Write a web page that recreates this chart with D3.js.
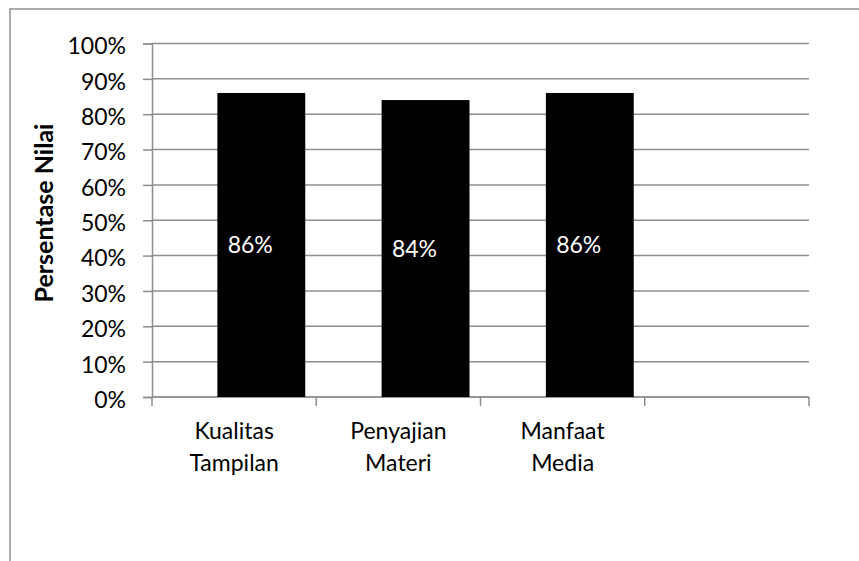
<!DOCTYPE html>
<html>
<head>
<meta charset="utf-8">
<script src="https://cdn.jsdelivr.net/npm/d3@7"></script>
<style>
  html, body { margin: 0; padding: 0; background: #ffffff; }
  svg { display: block; }
  text { font-family: Lato, "Open Sans", sans-serif; fill: #000; }
</style>
</head>
<body>
<svg id="chart" width="859" height="561"></svg>
<script>
// Category names (two-line labels) and their scores
const categories = ["Kualitas|Tampilan", "Penyajian|Materi", "Manfaat|Media", ""];
const values = [0.86, 0.84, 0.86, null];
const yTicks = [0, 0.1, 0.2, 0.3, 0.4, 0.5, 0.6, 0.7, 0.8, 0.9, 1.0];
const yTitle = "Persentase Nilai";

const svg = d3.select("#chart");
const gridColor = "#8e8e8e";

const plot = { left: 152, right: 809, top: 43.5, bottom: 397 };

const x = d3.scaleBand().domain(categories).range([plot.left, plot.right]).padding(0);
const y = d3.scaleLinear().domain([0, 1]).range([plot.bottom, plot.top]);
const fmt = d3.format(".0%");

// Outer chart border (left and top edges visible)
svg.append("path")
  .attr("d", `M10,561 L10,9 L859,9`)
  .attr("fill", "none")
  .attr("stroke", gridColor)
  .attr("stroke-width", 1.5);

// Horizontal gridlines
svg.append("g").selectAll("line")
  .data(yTicks)
  .join("line")
  .attr("x1", plot.left).attr("x2", plot.right)
  .attr("y1", d => y(d)).attr("y2", d => y(d))
  .attr("stroke", gridColor)
  .attr("stroke-width", 1.5);

// Y axis with tick marks and percent labels
const yAxis = svg.append("g")
  .attr("transform", `translate(${plot.left},0)`)
  .call(d3.axisLeft(y).tickValues(yTicks).tickFormat(fmt).tickSize(9).tickPadding(17));
yAxis.select(".domain").attr("stroke", gridColor).attr("stroke-width", 1.5);
yAxis.selectAll(".tick line").attr("stroke", gridColor).attr("stroke-width", 1.5);
yAxis.selectAll(".tick text")
  .attr("font-size", 23)
  .attr("font-family", "Lato, sans-serif")
  .attr("fill", "#000")
  .attr("dy", "0.45em");

// X axis baseline and category boundary ticks
const xAxis = svg.append("g");
xAxis.append("line")
  .attr("x1", plot.left).attr("x2", plot.right)
  .attr("y1", y(0)).attr("y2", y(0))
  .attr("stroke", gridColor).attr("stroke-width", 1.5);
const boundaries = categories.map(c => x(c)).concat([x.range()[1]]);
xAxis.selectAll("line.tick")
  .data(boundaries)
  .join("line")
  .attr("class", "tick")
  .attr("x1", d => d).attr("x2", d => d)
  .attr("y1", y(0)).attr("y2", y(0) + 9)
  .attr("stroke", gridColor).attr("stroke-width", 1.5);

// Category labels on two lines
const catLabels = svg.append("g").selectAll("text")
  .data(categories.filter(c => c !== ""))
  .join("text")
  .attr("text-anchor", "middle")
  .attr("font-size", 23);
catLabels.each(function(d) {
  const lines = d.split("|");
  const t = d3.select(this);
  lines.forEach((ln, i) => {
    t.append("tspan")
      .attr("x", x(d) + x.bandwidth() / 2)
      .attr("y", 439 + i * 32)
      .text(ln);
  });
});

// Bars
const bars = categories.map((c, i) => ({ c, v: values[i] })).filter(d => d.v != null);
const barOffset = x.bandwidth() * 0.398;
const barWidth = x.bandwidth() * 0.535;

svg.append("g").selectAll("rect")
  .data(bars)
  .join("rect")
  .attr("x", d => x(d.c) + barOffset)
  .attr("y", d => y(d.v))
  .attr("width", barWidth)
  .attr("height", d => y(0) - y(d.v))
  .attr("fill", "#000");

// Value labels inside bars
svg.append("g").selectAll("text")
  .data(bars)
  .join("text")
  .attr("x", d => x(d.c) + x.bandwidth() * 0.598)
  .attr("y", d => (y(d.v) + y(0)) / 2)
  .attr("dy", "0.36em")
  .attr("text-anchor", "middle")
  .attr("font-size", 23)
  .style("fill", "#fff")
  .text(d => fmt(d.v));

// Y axis title
svg.append("text")
  .attr("transform", `translate(53,213) rotate(-90)`)
  .attr("text-anchor", "middle")
  .attr("font-size", 25)
  .attr("font-weight", "bold")
  .text(yTitle);
</script>
</body>
</html>
